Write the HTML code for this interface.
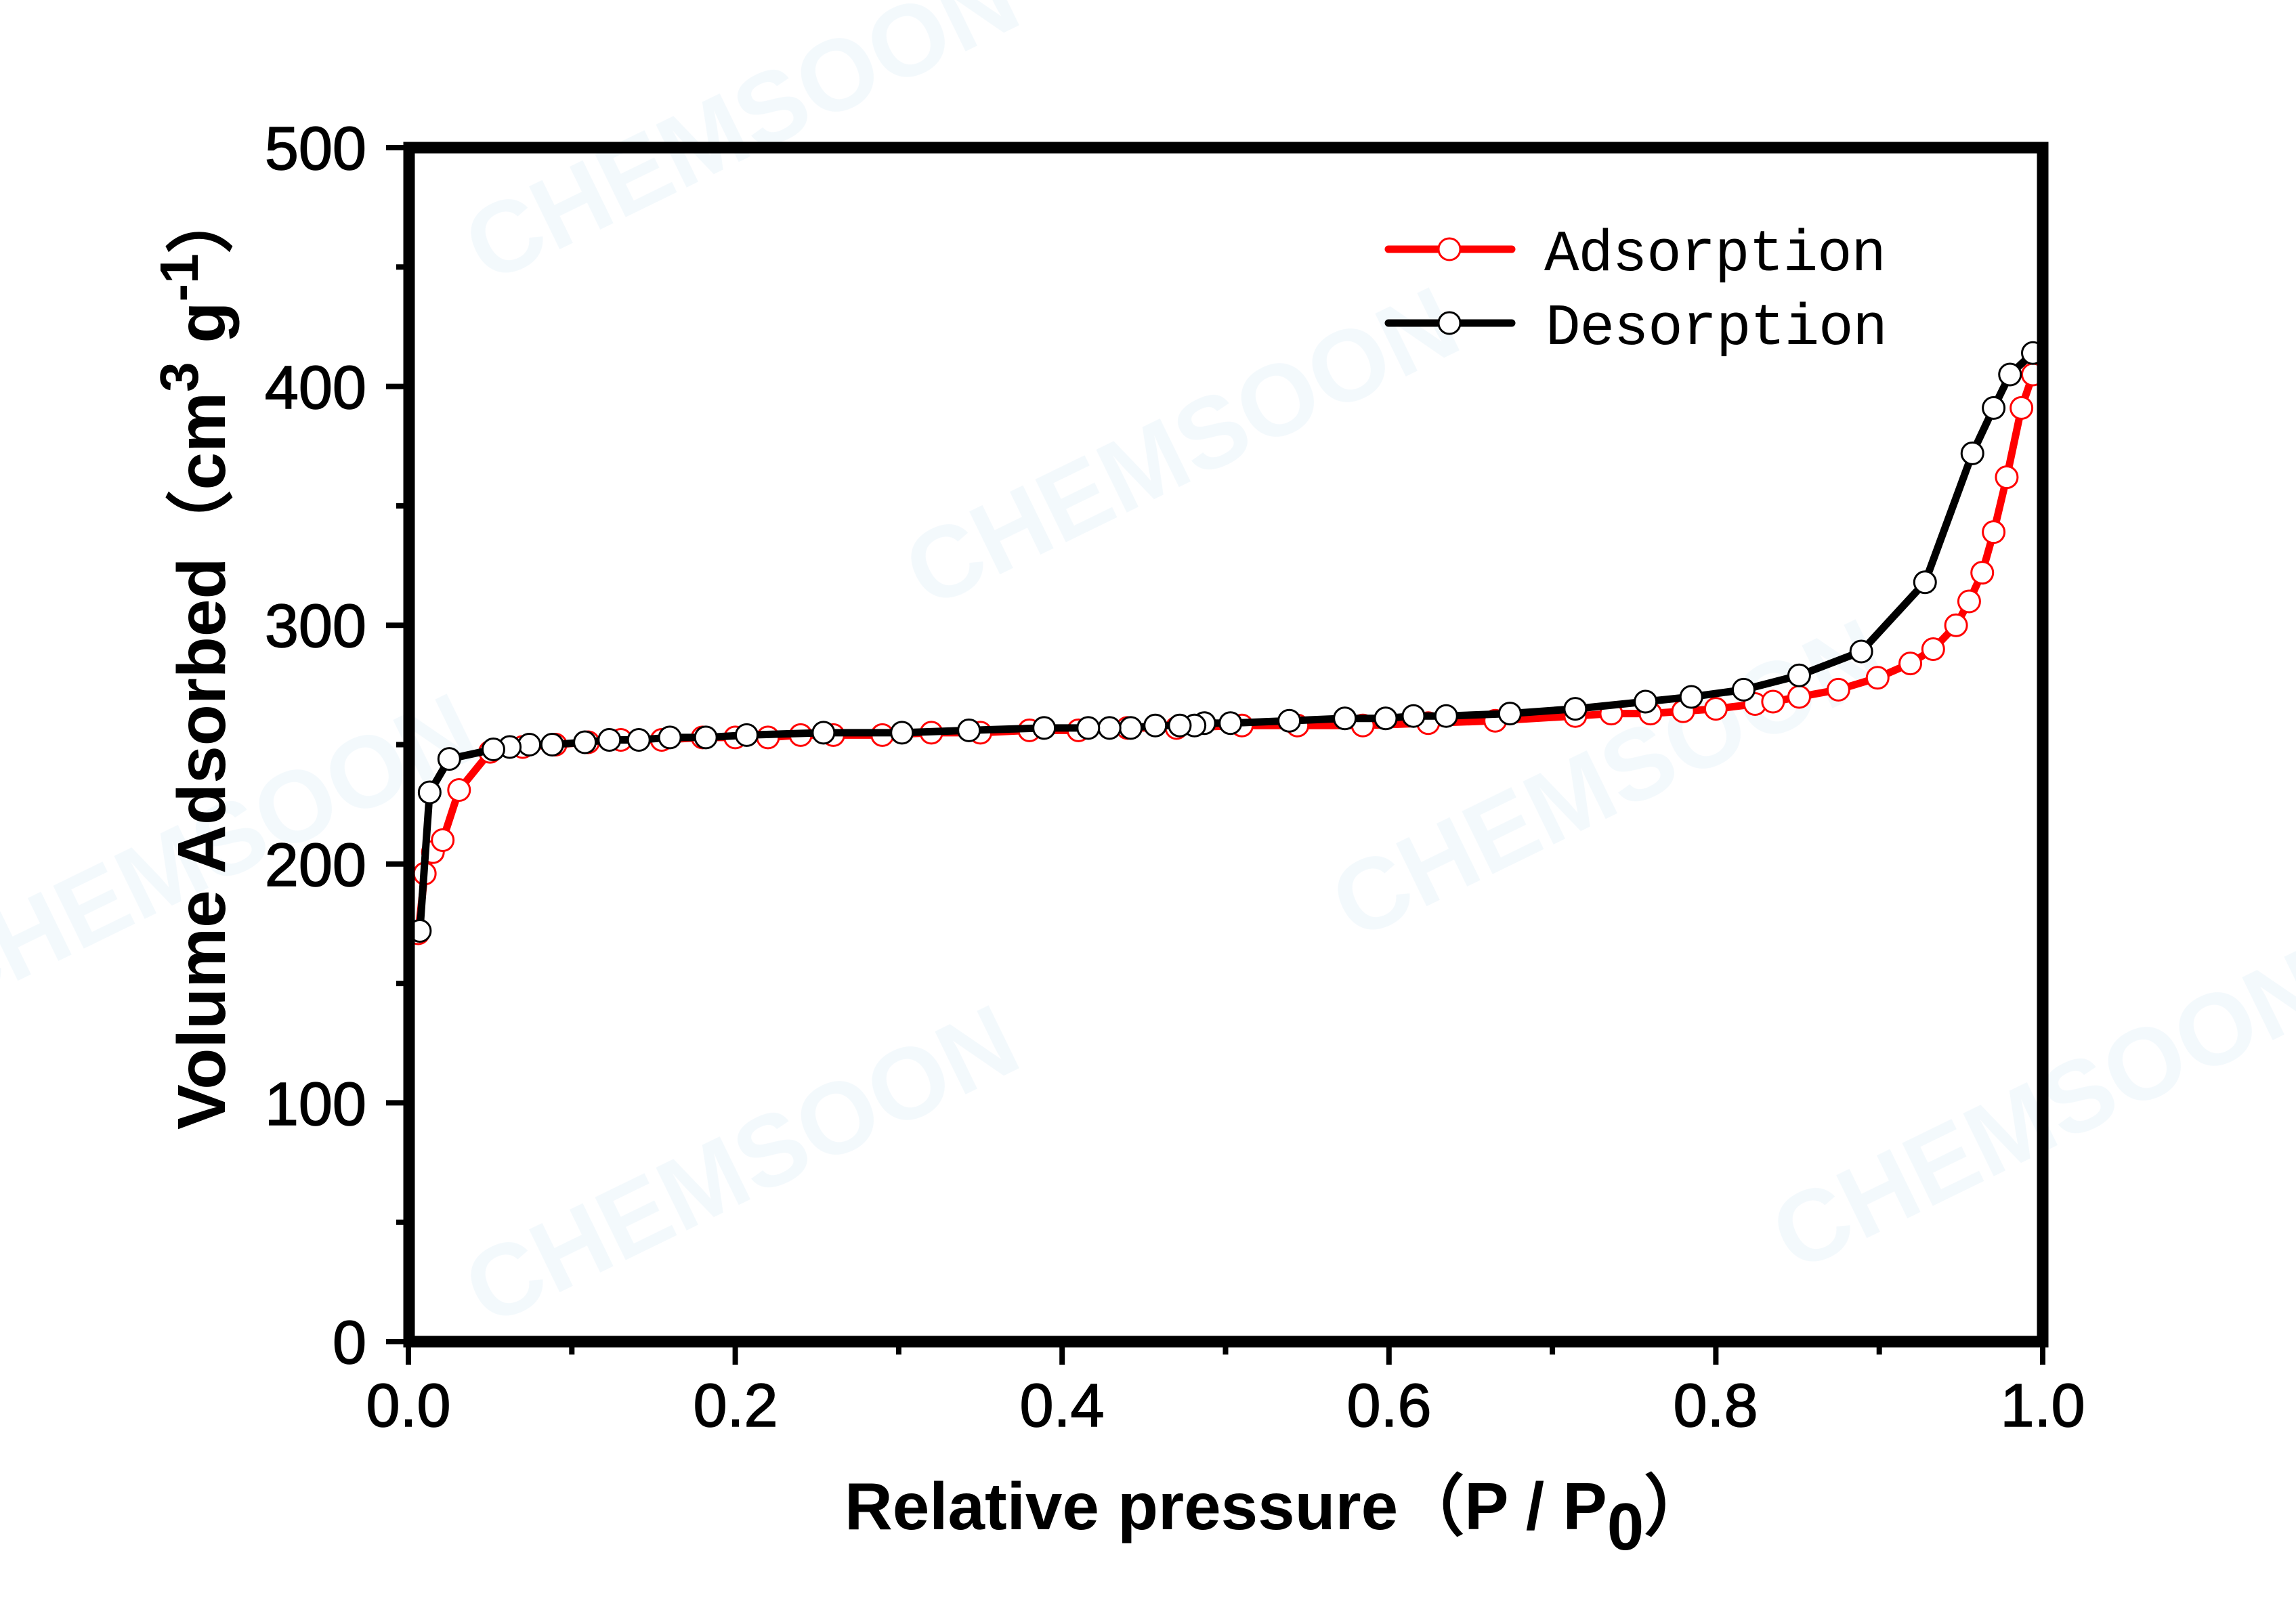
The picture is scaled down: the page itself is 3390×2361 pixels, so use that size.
<!DOCTYPE html>
<html><head><meta charset="utf-8">
<style>html,body{margin:0;padding:0;background:#fff;}svg{display:block}</style>
</head><body>
<svg id="s" width="3390" height="2361" viewBox="0 0 3390 2361" xmlns="http://www.w3.org/2000/svg">
<g font-family="Liberation Sans, Arial, sans-serif" font-weight="bold" font-size="150" fill="#eef6fb" opacity="0.7">
<text transform="translate(720,420) rotate(-26)">CHEMSOON</text>
<text transform="translate(1370,900) rotate(-26)">CHEMSOON</text>
<text transform="translate(2000,1390) rotate(-26)">CHEMSOON</text>
<text transform="translate(720,1960) rotate(-26)">CHEMSOON</text>
<text transform="translate(2650,1880) rotate(-26)">CHEMSOON</text>
<text transform="translate(-80,1500) rotate(-26)">CHEMSOON</text>
</g>
<g id="plot"></g>
<rect x="604" y="218" width="2412" height="1763" fill="none" stroke="#000" stroke-width="17"/>
<g id="ticks" stroke="#000" stroke-width="8"></g>
<g font-family="Liberation Sans, Arial, sans-serif" font-size="90" fill="#000" text-anchor="end" stroke="#000" stroke-width="1.5">
<text x="541" y="250">500</text>
<text x="541" y="603">400</text>
<text x="541" y="955">300</text>
<text x="541" y="1308">200</text>
<text x="541" y="1661">100</text>
<text x="541" y="2013">0</text>
</g>
<g font-family="Liberation Sans, Arial, sans-serif" font-size="90" fill="#000" text-anchor="middle" stroke="#000" stroke-width="1.5">
<text x="603" y="2106">0.0</text>
<text x="1086" y="2106">0.2</text>
<text x="1568" y="2106">0.4</text>
<text x="2051" y="2106">0.6</text>
<text x="2533" y="2106">0.8</text>
<text x="3016" y="2106">1.0</text>
</g>
<text x="1247" y="2258" font-family="Liberation Sans, Arial, sans-serif" font-weight="bold" font-size="98" fill="#000">Relative pressure（P / P<tspan dy="30">0</tspan><tspan dy="-30">）</tspan></text>
<text transform="translate(332,1668) rotate(-90)" font-family="Liberation Sans, Arial, sans-serif" font-weight="bold" font-size="100" fill="#000">Volume Adsorbed（cm<tspan dy="-40" font-size="80">3</tspan><tspan dy="40"> g</tspan><tspan dy="-40" font-size="80">-1</tspan><tspan dy="40">）</tspan></text>
<line x1="2050" y1="368" x2="2232" y2="368" stroke="#f00" stroke-width="11" stroke-linecap="round"/>
<circle cx="2140" cy="368" r="16" fill="#fff" stroke="#f00" stroke-width="3"/>
<line x1="2050" y1="477" x2="2232" y2="477" stroke="#000" stroke-width="11" stroke-linecap="round"/>
<circle cx="2140" cy="477" r="16" fill="#fff" stroke="#000" stroke-width="3"/>
<g font-family="Liberation Mono, monospace" font-size="86" fill="#000">
<text x="2280" y="399" textLength="505">Adsorption</text>
<text x="2282" y="508" textLength="505">Desorption</text>
</g>
</svg>
<script>
var NS="http://www.w3.org/2000/svg";
function X(x){return 603+2413*x;} function Y(y){return 1981-3.526*y;}
var ads=[[0.006,171],[0.010,196],[0.015,205],[0.021,210],[0.031,231],[0.05,247],[0.07,249],[0.09,250],[0.11,251],[0.13,252],[0.155,252],[0.18,253],[0.2,253],[0.22,253],[0.24,254],[0.26,254],[0.29,254],[0.32,255],[0.35,255],[0.38,256],[0.41,256],[0.44,257],[0.47,257],[0.51,258],[0.544,258],[0.584,258],[0.624,259],[0.665,260],[0.714,262],[0.736,263],[0.76,263],[0.78,264],[0.80,265],[0.824,267],[0.835,268],[0.851,270],[0.875,273],[0.899,278],[0.919,284],[0.933,290],[0.947,300],[0.955,310],[0.963,322],[0.970,339],[0.978,362],[0.987,391],[0.994,405]];
var des=[[0.994,414],[0.980,405],[0.970,391],[0.957,372],[0.928,318],[0.889,289],[0.851,279],[0.817,273],[0.785,270],[0.757,268],[0.714,265],[0.674,263],[0.635,262],[0.615,262],[0.598,261],[0.573,261],[0.539,260],[0.503,259],[0.487,259],[0.481,258],[0.472,258],[0.457,258],[0.442,257],[0.429,257],[0.416,257],[0.389,257],[0.343,256],[0.302,255],[0.254,255],[0.207,254],[0.182,253],[0.160,253],[0.141,252],[0.123,252],[0.108,251],[0.088,250],[0.074,250],[0.062,249],[0.052,248],[0.025,244],[0.013,230],[0.007,172]];
var g=document.getElementById("plot");
function draw(d,c){var p=document.createElementNS(NS,"polyline");p.setAttribute("points",d.map(function(a){return X(a[0])+","+Y(a[1]);}).join(" "));p.setAttribute("fill","none");p.setAttribute("stroke",c);p.setAttribute("stroke-width","11");p.setAttribute("stroke-linejoin","round");g.appendChild(p);}
function mk(d,c){d.forEach(function(a){var e=document.createElementNS(NS,"circle");e.setAttribute("cx",X(a[0]));e.setAttribute("cy",Y(a[1]));e.setAttribute("r","16");e.setAttribute("fill","#fff");e.setAttribute("stroke",c);e.setAttribute("stroke-width","3");g.appendChild(e);});}
draw(ads,"#f00");mk(ads,"#f00");draw(des,"#000");mk(des,"#000");
var t=document.getElementById("ticks");
function ln(a,b,c,d){var l=document.createElementNS(NS,"line");l.setAttribute("x1",a);l.setAttribute("y1",b);l.setAttribute("x2",c);l.setAttribute("y2",d);t.appendChild(l);}
for(var i=0;i<=10;i++){var y=Y(i*50);ln(604,y,i%2?585:570,y);var x=X(i*0.1);ln(x,1981,x,i%2?2000:2015);}
</script>
</body></html>
